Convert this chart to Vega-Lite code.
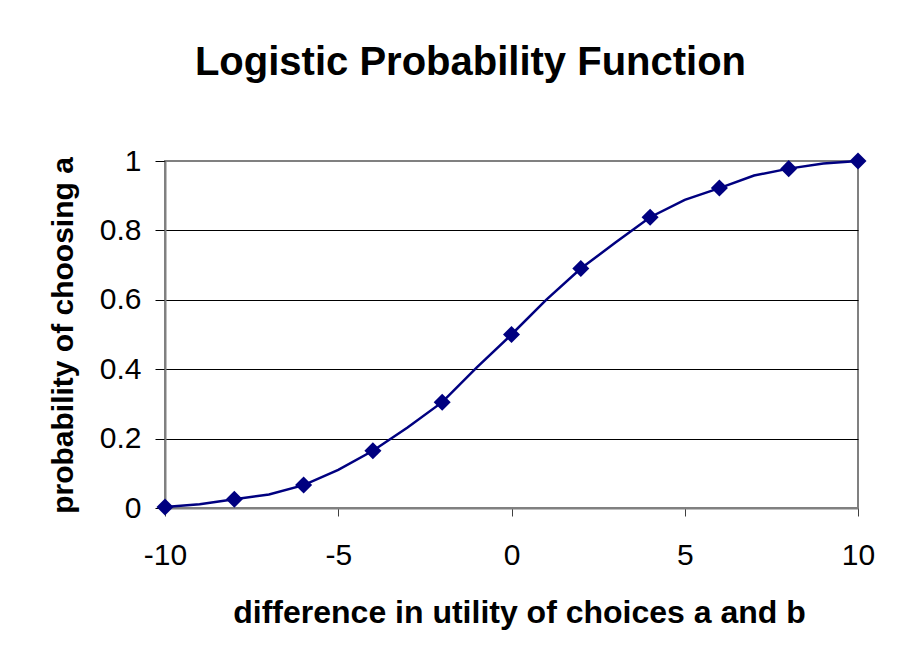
{
  "$schema": "https://vega.github.io/schema/vega-lite/v6.json",
  "width": 693,
  "height": 347,
  "autosize": {"type": "none"},
  "padding": {"left": 165, "top": 161, "right": 41, "bottom": 154},
  "background": "white",
  "title": {
    "text": "Logistic Probability Function",
    "font": "Liberation Sans",
    "fontSize": 40,
    "fontWeight": "bold",
    "color": "black",
    "anchor": "middle",
    "frame": "group",
    "dx": -41,
    "offset": 31,
    "baseline": "alphabetic"
  },
  "data": {
    "values": [
      {"x": -10, "p": 0.003},
      {"x": -9, "p": 0.011},
      {"x": -8, "p": 0.025},
      {"x": -7, "p": 0.039},
      {"x": -6, "p": 0.066},
      {"x": -5, "p": 0.11},
      {"x": -4, "p": 0.165},
      {"x": -3, "p": 0.232},
      {"x": -2, "p": 0.305},
      {"x": -1, "p": 0.405},
      {"x": 0, "p": 0.5},
      {"x": 1, "p": 0.6},
      {"x": 2, "p": 0.69},
      {"x": 3, "p": 0.765},
      {"x": 4, "p": 0.838},
      {"x": 5, "p": 0.888},
      {"x": 6, "p": 0.922},
      {"x": 7, "p": 0.958},
      {"x": 8, "p": 0.978},
      {"x": 9, "p": 0.993},
      {"x": 10, "p": 1.0}
    ]
  },
  "encoding": {
    "x": {
      "field": "x",
      "type": "quantitative",
      "scale": {"domain": [-10, 10], "nice": false, "zero": false},
      "axis": {
        "values": [-10, -5, 0, 5, 10],
        "labelExpr": "'' + datum.value",
        "labelFlush": false,
        "labelOverlap": false,
        "title": "difference in utility of choices a and b",
        "grid": false,
        "tickSize": 8,
        "tickColor": "#404040",
        "domainColor": "#808080",
        "domainWidth": 2,
        "labelFontSize": 30,
        "labelBaseline": "alphabetic",
        "labelPadding": 48,
        "titleFontSize": 32,
        "titleBaseline": "alphabetic",
        "titleX": 354,
        "titleY": 114,
        "titleAlign": "center"
      }
    },
    "y": {
      "field": "p",
      "type": "quantitative",
      "scale": {"domain": [0, 1], "nice": false},
      "axis": {
        "values": [0, 0.2, 0.4, 0.6, 0.8, 1],
        "format": "~g",
        "labelFlush": false,
        "labelOverlap": false,
        "title": "probability of choosing a",
        "grid": true,
        "gridColor": {"condition": {"test": "datum.value == 0 || datum.value == 1", "value": "#808080"}, "value": "black"},
        "gridWidth": 1,
        "tickSize": 10,
        "tickColor": "black",
        "domainColor": "#808080",
        "domainWidth": 2,
        "labelFontSize": 30,
        "labelPadding": 14,
        "titleFontSize": 30,
        "titleAngle": 270,
        "titleBaseline": "alphabetic",
        "titleX": -93,
        "titleY": 174,
        "titleAlign": "center"
      }
    }
  },
  "layer": [
    {
      "mark": {"type": "line", "color": "#000080", "strokeWidth": 2.5}
    },
    {
      "transform": [{"filter": "datum.x % 2 == 0"}],
      "mark": {"type": "point", "shape": "diamond", "filled": true, "color": "#000080", "size": 290, "opacity": 1}
    }
  ],
  "config": {
    "view": {"stroke": "#808080", "strokeWidth": 2},
    "axis": {
      "labelFont": "Liberation Sans",
      "labelColor": "black",
      "titleFont": "Liberation Sans",
      "titleFontWeight": "bold",
      "titleColor": "black"
    }
  }
}
